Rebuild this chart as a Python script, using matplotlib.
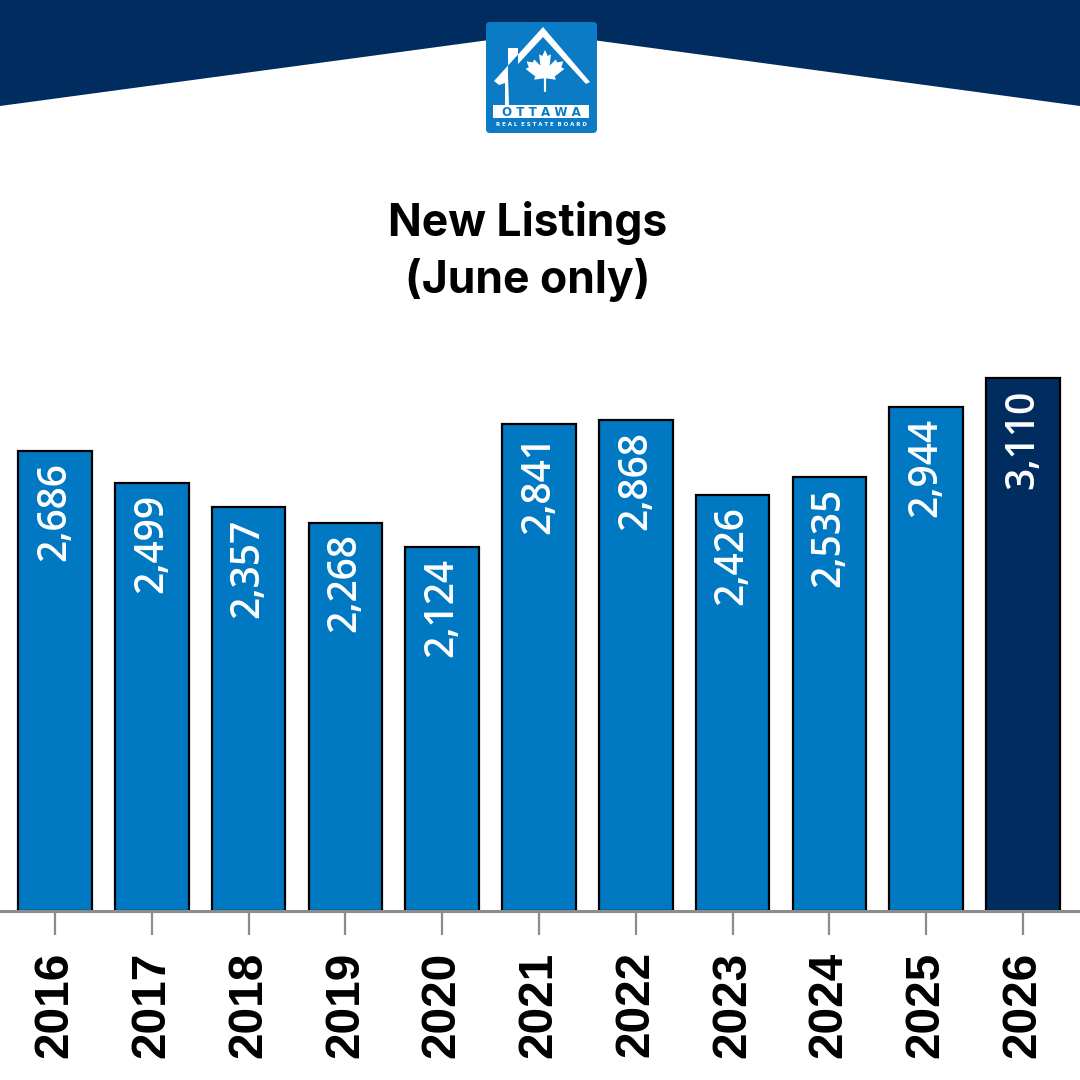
import matplotlib
matplotlib.use("Agg")
import matplotlib.pyplot as plt
from matplotlib.patches import Polygon, FancyBboxPatch

years = ['2016', '2017', '2018', '2019', '2020', '2021',
         '2022', '2023', '2024', '2025', '2026']
listings = [2686, 2499, 2357, 2268, 2124, 2841,
            2868, 2426, 2535, 2944, 3110]

blue = '#0079c2'
navy = '#012c5f'
colors = [blue] * (len(years) - 1) + [navy]

fig = plt.figure(figsize=(10.8, 10.8), dpi=100)

# decoration layer in pixel coords (banner + logo)
deco = fig.add_axes([0, 0, 1, 1])
deco.set_xlim(0, 1080)
deco.set_ylim(1080, 0)
deco.axis('off')

deco.add_patch(Polygon([(0, 0), (1080, 0), (1080, 106), (541, 33), (0, 106)],
                       closed=True, facecolor=navy, edgecolor='none'))

deco.add_patch(FancyBboxPatch((489, 25), 105, 105,
                              boxstyle='round,pad=3,rounding_size=4',
                              facecolor='#0a7bc4', edgecolor='none'))

# house outline
roof = [(494, 81), (543, 27), (590, 82), (586, 84), (543, 37), (518, 64),
        (518, 48), (508, 48), (508, 75), (509, 105), (505, 105), (505, 83), (499, 85)]
deco.add_patch(Polygon(roof, closed=True, facecolor='white', edgecolor='none'))

# maple leaf
half = [(0.00, 1.00), (0.10, 0.78), (0.22, 0.84), (0.17, 0.42), (0.40, 0.65),
        (0.45, 0.54), (0.68, 0.58), (0.60, 0.36), (0.72, 0.30), (0.36, 0.02),
        (0.40, -0.10), (0.04, -0.05), (0.04, -0.55), (0.00, -0.55)]
leaf = half + [(-x, y) for x, y in reversed(half)]
cx, cy, s = 545, 77, 27
deco.add_patch(Polygon([(cx + x * s, cy - y * s) for x, y in leaf],
                       closed=True, facecolor='white', edgecolor='none'))

deco.add_patch(plt.Rectangle((493, 105), 96, 13, facecolor='white', edgecolor='none'))
deco.text(541, 112, 'O T T A W A', ha='center', va='center', fontsize=8.6,
          fontweight='bold', color='#0a7bc4', family='DejaVu Sans')
deco.text(541, 125, 'R E A L  E S T A T E  B O A R D', ha='center', va='center',
          fontsize=4.0, fontweight='bold', color='white', family='DejaVu Sans')

# title
title_font = dict(fontsize=32, fontweight='bold', family='Inter', color='black')
fig.text(0.489, 1 - 236 / 1080, 'New Listings', ha='center', va='baseline', **title_font)
fig.text(0.489, 1 - 293 / 1080, '(June only)', ha='center', va='baseline', **title_font)

# bar chart
ax = fig.add_axes([0, 1 - 911 / 1080, 1, 0.5234])
ax.patch.set_alpha(0)
x = range(len(years))
bars = ax.bar(x, listings, width=0.76, color=colors,
              edgecolor='black', linewidth=1.6, zorder=2)

for xi, v in zip(x, listings):
    ax.annotate(f'{v:,}', (xi, v), xytext=(0, -8), textcoords='offset points',
                rotation=90, ha='center', va='top', color='white',
                fontsize=28, fontweight='semibold', family='Open Sans', zorder=3)

ax.set_xlim(-0.57, len(years) - 1 + 0.59)
ax.set_ylim(0, 3300)
ax.set_xticks(list(x))
ax.set_xticklabels(years, rotation=90, fontsize=34.5, fontweight='bold',
                   family='Liberation Sans')
ax.tick_params(axis='x', length=17, width=1.6, color='#8c8c8c', pad=12)
ax.set_yticks([])
for side in ['top', 'left', 'right']:
    ax.spines[side].set_visible(False)
ax.spines['bottom'].set_color('#8c8c8c')
ax.spines['bottom'].set_linewidth(2.2)
ax.spines['bottom'].set_zorder(4)

fig.savefig('out.png', dpi=100)
